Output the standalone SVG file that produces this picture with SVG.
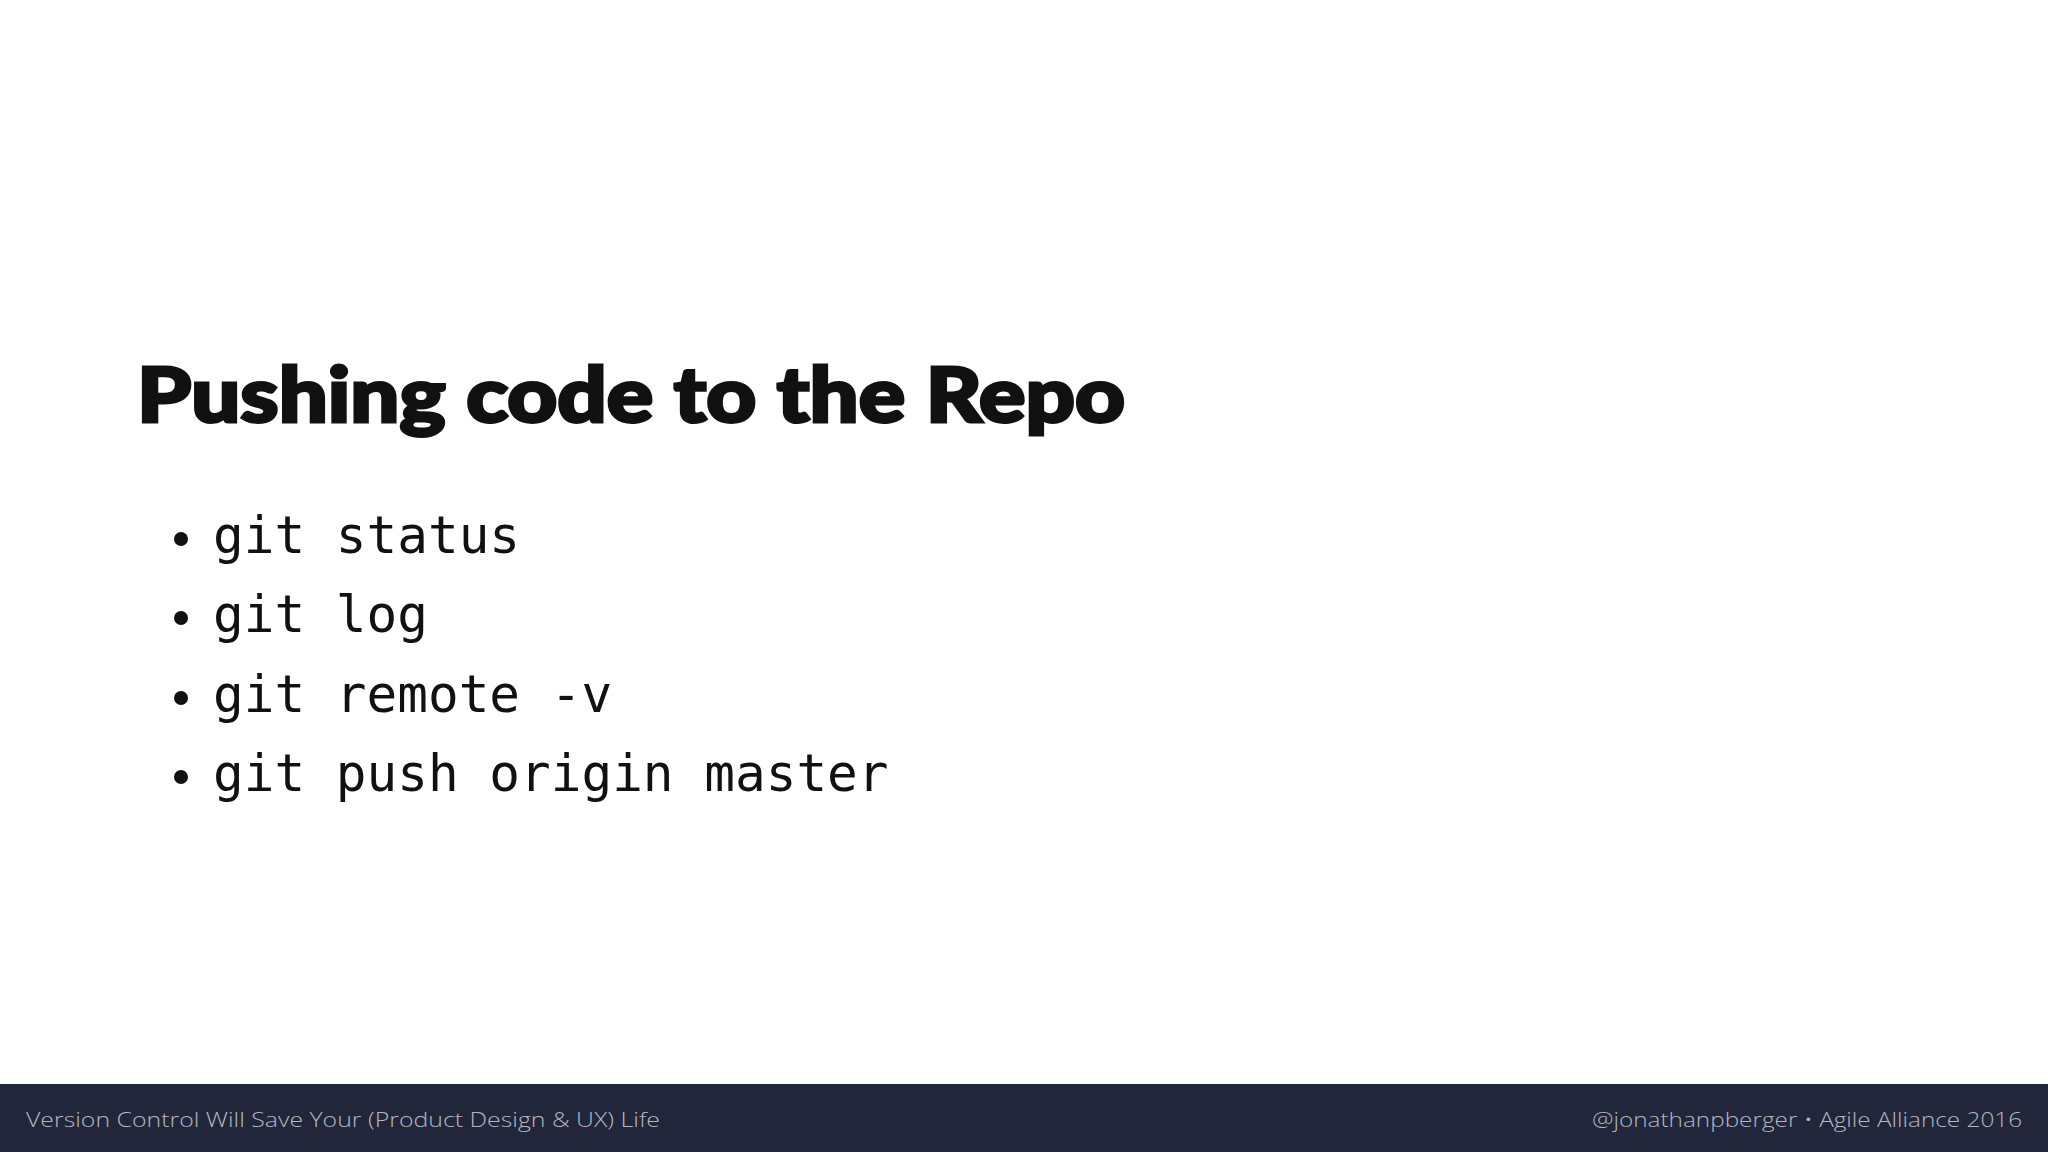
<svg xmlns="http://www.w3.org/2000/svg" width="2048" height="1152" viewBox="0 0 2048 1152">
<style>
.t{font-family:Lato,"Liberation Sans",sans-serif;font-weight:900;font-size:76px;fill:#111;stroke:#111;stroke-width:3px}
.b{font-family:"DejaVu Sans Mono","Liberation Mono",monospace;font-size:51px;fill:#111}
.f{font-family:"Open Sans","Liberation Sans",sans-serif;font-weight:300;font-size:21px;fill:#b4b6c2}
</style>
<rect width="2048" height="1152" fill="#fff"/>
<g id="title"><text class="t" x="137" y="422" textLength="988" lengthAdjust="spacingAndGlyphs">Pushing code to the Repo</text></g>
<g id="bullets">
<circle cx="181" cy="539" r="7" fill="#111"/><text class="b" x="213" y="553">git status</text>
<circle cx="181" cy="618" r="7" fill="#111"/><text class="b" x="213" y="632">git log</text>
<circle cx="181" cy="698" r="7" fill="#111"/><text class="b" x="213" y="712">git remote -v</text>
<circle cx="181" cy="777" r="7" fill="#111"/><text class="b" x="213" y="791">git push origin master</text>
</g>
<g id="footer">
<rect x="0" y="1084" width="2048" height="68" fill="#22263a"/>
<text class="f" x="26" y="1127" textLength="634" lengthAdjust="spacingAndGlyphs">Version Control Will Save Your (Product Design &amp; UX) Life</text>
<text class="f" x="1592" y="1127" textLength="430" lengthAdjust="spacingAndGlyphs">@jonathanpberger • Agile Alliance 2016</text>
</g>
</svg>
